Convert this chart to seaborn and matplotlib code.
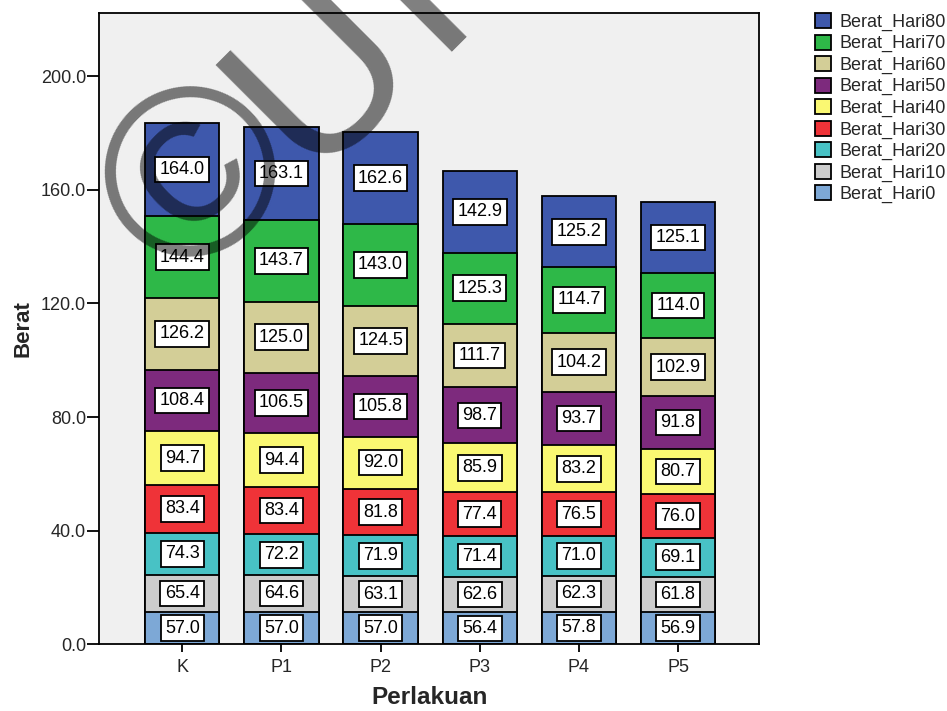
import numpy as np
import pandas as pd
import matplotlib
matplotlib.use("Agg")
import matplotlib.pyplot as plt
from matplotlib.patches import Patch
import seaborn as sns

# ---- data ----
categories = ["K", "P1", "P2", "P3", "P4", "P5"]
hari0 = [57.0, 57.0, 57.0, 56.4, 57.8, 56.9]
hari10 = [65.4, 64.6, 63.1, 62.6, 62.3, 61.8]
hari20 = [74.3, 72.2, 71.9, 71.4, 71.0, 69.1]
hari30 = [83.4, 83.4, 81.8, 77.4, 76.5, 76.0]
hari40 = [94.7, 94.4, 92.0, 85.9, 83.2, 80.7]
hari50 = [108.4, 106.5, 105.8, 98.7, 93.7, 91.8]
hari60 = [126.2, 125.0, 124.5, 111.7, 104.2, 102.9]
hari70 = [144.4, 143.7, 143.0, 125.3, 114.7, 114.0]
hari80 = [164.0, 163.1, 162.6, 142.9, 125.2, 125.1]
series_names = ["Berat_Hari0", "Berat_Hari10", "Berat_Hari20", "Berat_Hari30",
                "Berat_Hari40", "Berat_Hari50", "Berat_Hari60", "Berat_Hari70",
                "Berat_Hari80"]
yticks = [0, 40, 80, 120, 160, 200]
# in the source chart each segment's drawn height is one fifth of its labelled value
segment_scale = 1 / 5

series = [hari0, hari10, hari20, hari30, hari40, hari50, hari60, hari70, hari80]
colors = ["#7DA8D6", "#CCCCCC", "#48C2C5", "#EF3338", "#FAF872",
          "#7D2A7D", "#D3CE97", "#2EB848", "#3E58AC"]

sns.set_style("white")
plt.rcParams["font.family"] = ["Liberation Sans", "DejaVu Sans"]

W, H = 947, 711
fig = plt.figure(figsize=(W / 100, H / 100), dpi=100)
ax_l, ax_r, ax_t, ax_b = 99.3, 759.3, 12.7, 644.4
ax = fig.add_axes([ax_l / W, 1 - ax_b / H, (ax_r - ax_l) / W, (ax_b - ax_t) / H])
ax.set_facecolor("#F0F0F0")

heights = np.array(series) * segment_scale
cum = np.cumsum(heights, axis=0)

# draw from the top layer down so lower layers overlay the taller cumulative bars
for i in range(len(series) - 1, -1, -1):
    df = pd.DataFrame({"cat": categories, "val": cum[i]})
    sns.barplot(data=df, x="cat", y="val", ax=ax, color=colors[i], saturation=1,
                width=0.75, edgecolor="black", linewidth=1.3, zorder=2)

# value labels
for i in range(len(series)):
    for j in range(len(categories)):
        ymid = cum[i][j] - heights[i][j] / 2
        ax.text(j, ymid, f"{series[i][j]:.1f}", ha="center", va="center",
                fontsize=13, color="black", zorder=5,
                bbox=dict(boxstyle="square,pad=0.24", facecolor="white",
                          edgecolor="black", linewidth=1.3))

ax.set_xlim(-0.837, 5.82)
ax.set_ylim(0, 222.3)
ax.set_yticks(yticks)
ax.set_yticklabels([f"{v:.1f}" for v in yticks])
ax.tick_params(axis="y", direction="out", length=8.6, width=1.3, pad=1,
               labelsize=13, left=True, color="black")
ax.tick_params(axis="x", direction="out", length=5.8, width=1.3, pad=5,
               labelsize=13, bottom=True, color="black")
for s in ax.spines.values():
    s.set_visible(True)
    s.set_color("black")
    s.set_linewidth(1.3)

ax.set_xlabel("Perlakuan", fontsize=17.5, fontweight="bold")
ax.set_ylabel("Berat", fontsize=16, fontweight="bold")
ax.xaxis.set_label_coords(0.5, -0.066)
ax.yaxis.set_label_coords(-0.1, 0.5)

# legend (top layer first)
handles = [Patch(facecolor=colors[i], edgecolor="black", linewidth=1.3)
           for i in range(len(series) - 1, -1, -1)]
labels = [series_names[i] for i in range(len(series) - 1, -1, -1)]
fig.legend(handles, labels, loc="upper left",
           bbox_to_anchor=(815 / W, 1 - 13 / H), frameon=False,
           fontsize=13, handlelength=0.9, handleheight=0.9,
           handletextpad=0.45, labelspacing=0.2, borderaxespad=0, borderpad=0)

# watermark (drawn as three glyphs, rotated 45 degrees)
wm = dict(rotation=45, rotation_mode="anchor", color="black", alpha=0.5, zorder=20)
fig.text(204 / W, 1 - 183 / H, "\u00a9", ha="center", va="center",
         fontsize=174, **wm)
fig.text(366 / W, 1 - 117 / H, "U", ha="center", va="baseline",
         fontsize=162, **wm)
fig.text(453.7 / W, 1 - 30.3 / H, "I", ha="center", va="baseline",
         fontsize=162, **wm)

fig.savefig("out.png", dpi=100)
